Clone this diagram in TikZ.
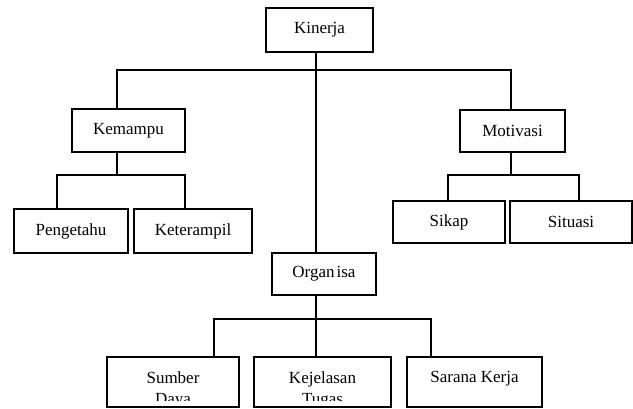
\documentclass[tikz,border=0pt]{standalone}
\usepackage{fontspec}
\setmainfont{Liberation Serif}
\begin{document}
\begin{tikzpicture}[x=1pt, y=-1pt,
    font=\fontsize{17}{21}\selectfont,
    box/.style={draw, line width=1.3pt, inner sep=0pt, minimum height=43pt},
    wire/.style={line width=1.3pt},
    txt/.style={align=center, inner xsep=0pt, inner ysep=15pt, anchor=north}]
        \useasboundingbox (0,0) rectangle (633,409);

        \node[box, minimum width=107pt, minimum height=44pt] (kinerja) at (319.5,30) {Kinerja};
        \node[box, minimum width=113pt] (kemampu) at (128.5,130.5) {Kemampu};
        \node[box, minimum width=105pt, minimum height=42pt] (motivasi) at (512.5,131) {Motivasi};
        \node[box, minimum width=114pt, minimum height=44pt] (pengetahu) at (71,231) {Pengetahu};
        \node[box, minimum width=118pt, minimum height=44pt] (keterampil) at (193,231) {Keterampil};
        \node[box, minimum width=112pt, minimum height=42pt] (sikap) at (449,222) {Sikap};
        \node[box, minimum width=122pt, minimum height=42pt] (situasi) at (571,222) {Situasi};
        \node[box, minimum width=104pt, minimum height=42pt] (organisa) at (324,274) {Organ\hspace{2pt}isa};
        \node[box, minimum width=132pt, minimum height=50pt] (sumber) at (173,382) {};
        \node[box, minimum width=137pt, minimum height=50pt] (kejelasan) at (322.5,382) {};
        \node[box, minimum width=135pt, minimum height=50pt] (sarana) at (474.5,382) {};

        \begin{scope}
            \clip (0,357) rectangle (633,400);
            \node[txt] (sumberTxt) at (sumber.north) {Sumber\\Daya};
            \node[txt] (kejelasanTxt) at (kejelasan.north) {Kejelasan\\Tugas};
            \node[txt] (saranaTxt) at (sarana.north) {Sarana Kerja};
        \end{scope}

        \coordinate (hub) at (316,70);
        \coordinate (busK) at (117,70);
        \coordinate (busM) at (511,70);
        \coordinate (kL) at (57,175);
        \coordinate (kR) at (185,175);
        \coordinate (mL) at (448,175);
        \coordinate (mR) at (579,175);
        \coordinate (oL) at (214,319);
        \coordinate (oR) at (431,319);

        \draw[wire] (kinerja.south -| hub) -- (organisa.north -| hub);
        \draw[wire] (kemampu.north -| busK) |- (busM) -- (motivasi.north -| busM);
        \draw[wire] (kemampu.south -| busK) -- (busK |- kL);
        \draw[wire] (pengetahu.north -| kL) |- (kR) -- (keterampil.north -| kR);
        \draw[wire] (motivasi.south -| busM) -- (busM |- mL);
        \draw[wire] (sikap.north -| mL) |- (mR) -- (situasi.north -| mR);
        \draw[wire] (organisa.south -| hub) -- (kejelasan.north -| hub);
        \draw[wire] (sumber.north -| oL) |- (oR) -- (sarana.north -| oR);

    \end{tikzpicture}
\end{document}
